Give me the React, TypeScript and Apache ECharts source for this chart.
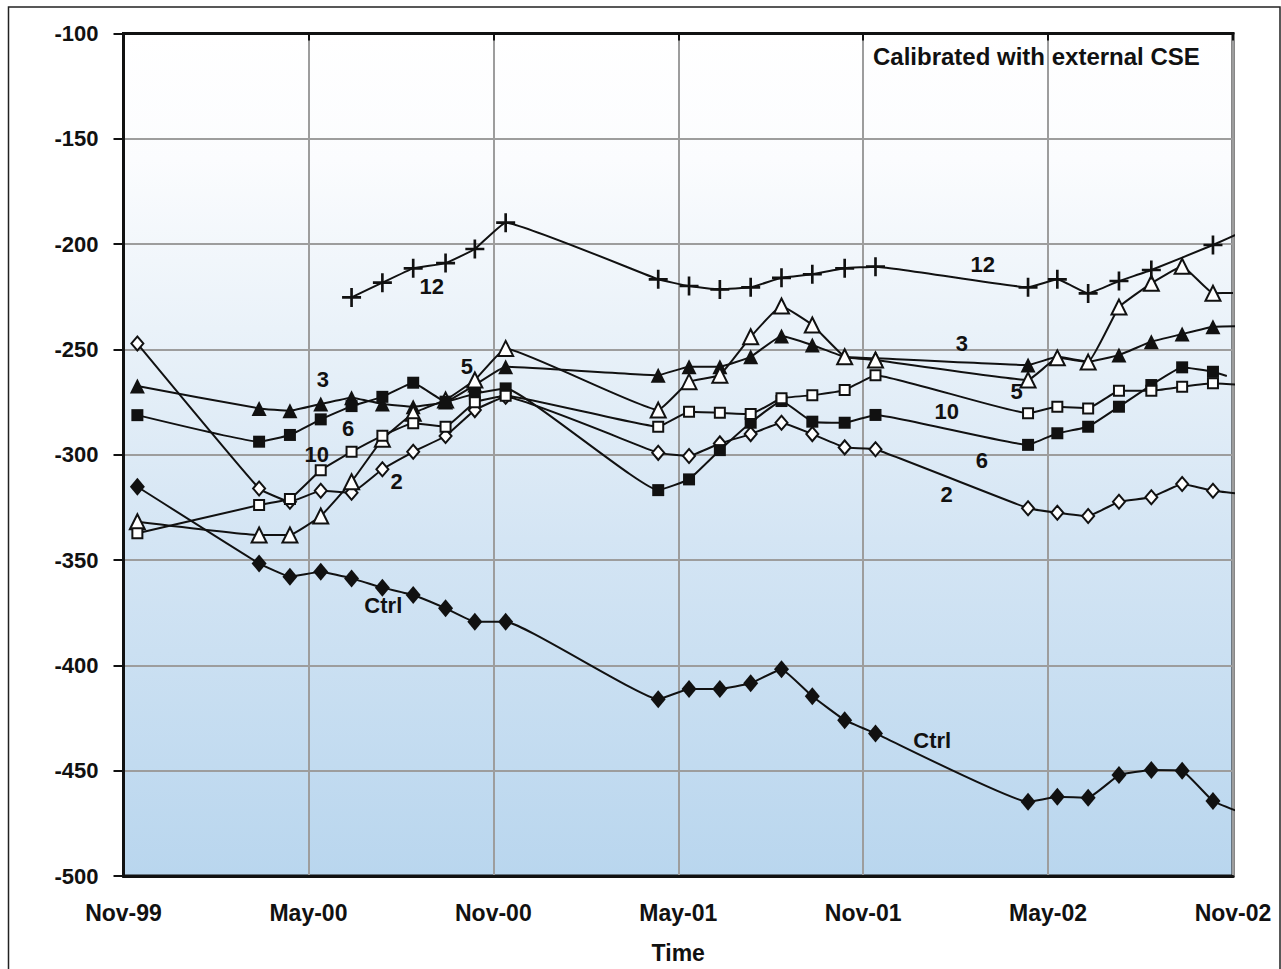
import React, { useEffect, useRef } from 'react';
import * as echarts from 'echarts';

// Months since Nov-99 for each sampling date
const months = [0.45, 4.4, 5.4, 6.4, 7.4, 8.4, 9.4, 10.45, 11.4, 12.4, 17.35, 18.35, 19.35, 20.35, 21.35, 22.35, 23.4, 24.4, 29.35, 30.3, 31.3, 32.3, 33.35, 34.35, 35.35];
const xTickLabels = ['Nov-99', 'May-00', 'Nov-00', 'May-01', 'Nov-01', 'May-02', 'Nov-02'];

const ctrl = [-315.2, -351.6, -357.9, -355.6, -358.7, -363.1, -366.6, -372.9, -379.3, -379.3, -416.1, -411.2, -411.2, -408.5, -401.8, -414.7, -426.0, -432.3, -464.8, -462.4, -462.9, -452.1, -449.7, -450.0, -464.4];
const s2 = [-247.2, -316.0, -322.3, -317.1, -318.0, -306.9, -298.6, -291.1, -278.8, -272.5, -299.1, -300.6, -294.6, -290.2, -284.8, -290.2, -296.5, -297.4, -325.4, -327.5, -329.1, -322.3, -320.2, -313.9, -317.1];
const s3 = [-267.4, -278.0, -279.1, -275.9, -272.9, -275.9, -277.2, -275.0, -266.9, -258.2, -262.2, -258.2, -258.2, -253.5, -243.6, -247.9, -253.5, -254.2, -257.4, -253.5, -255.8, -252.7, -246.3, -242.7, -239.2];
const s5 = [-331.8, -338.1, -338.1, -329.1, -312.8, -292.7, -280.3, -274.0, -264.5, -249.5, -278.8, -265.3, -262.2, -244.0, -229.4, -238.4, -253.5, -255.0, -264.5, -254.0, -256.0, -229.9, -218.6, -210.5, -223.3];
const s6 = [-281.2, -293.8, -290.6, -283.2, -276.9, -272.5, -265.8, -274.8, -271.0, -268.5, -316.8, -311.7, -297.8, -284.8, -274.5, -284.3, -284.8, -281.1, -295.3, -289.8, -286.7, -277.2, -266.9, -258.5, -260.6];
const s10 = [-337.3, -323.9, -321.0, -307.3, -298.6, -291.0, -285.1, -286.7, -275.1, -272.0, -286.7, -279.6, -280.1, -280.7, -273.2, -271.7, -269.3, -262.2, -280.3, -277.2, -278.0, -269.6, -269.6, -267.7, -266.1];
const s12 = [null, null, null, null, -225.3, -218.3, -211.5, -209.0, -202.3, -189.8, -216.7, -219.9, -221.5, -220.5, -216.0, -214.3, -211.5, -210.7, -220.5, -216.7, -223.4, -217.5, -212.3, null, -200.4];

// where each drawn line ends past its last marker [month, value]
const ctrlTail = [36.26, -469.9];
const s2Tail = [36.32, -318.6];
const s3Tail = [36.39, -238.9];
const s5Tail = [36.0, -223.2];
const s6Tail = [35.8, -262.6];
const s10Tail = [36.28, -266.9];
const s12Tail = [36.32, -194.1];

// in-plot line labels
const lineLabelText = ['12', '12', '3', '3', '6', '6', '10', '10', '2', '2', '5', '5', 'Ctrl', 'Ctrl'];
const lineLabelX = [10.0, 27.88, 6.47, 27.2, 7.29, 27.85, 6.27, 26.71, 8.86, 26.71, 11.14, 28.98, 8.43, 26.24];
const lineLabelY = [-220.2, -209.9, -264.5, -247.1, -287.5, -302.5, -300.1, -279.6, -312.8, -319.1, -258.2, -270.1, -371.4, -435.8];

const FONT = '"Liberation Sans", Arial, Helvetica, sans-serif';
const INK = '#111111';
const PLUS = 'path://M8.6,0 H11.4 V8.6 H20 V11.4 H11.4 V20 H8.6 V11.4 H0 V8.6 H8.6 Z';

function makeSeries(name: string, values: (number | null)[], tail: number[], symbol: string, size: any, filled: boolean) {
  const data: any[] = [];
  months.forEach((m, i) => {
    const v = values[i];
    if (v !== null && v !== undefined) data.push([m, v]);
  });
  data.push({ value: tail, symbol: 'none' });
  return {
    type: 'line',
    name,
    data,
    smooth: 0.1,
    clip: false,
    symbol,
    symbolSize: size,
    showAllSymbol: true,
    lineStyle: { color: INK, width: 2 },
    itemStyle: filled
      ? { color: INK, borderColor: INK, borderWidth: 0 }
      : { color: '#ffffff', borderColor: INK, borderWidth: 2 },
    emphasis: { disabled: true },
  };
}

export default function App() {
  const ref = useRef<HTMLDivElement>(null);
  useEffect(() => {
    if (!ref.current) return;
    const chart = echarts.init(ref.current, null, { renderer: 'svg' });
    const labelData = lineLabelText.map((t, i) => ({
      value: [lineLabelX[i], lineLabelY[i]],
      label: { formatter: t },
    }));
    chart.setOption({
      animation: false,
      backgroundColor: '#ffffff',
      textStyle: { fontFamily: FONT },
      grid: {
        left: 123.5,
        right: 48,
        top: 33.5,
        bottom: 93,
        show: true,
        borderColor: INK,
        borderWidth: 3,
        backgroundColor: new echarts.graphic.LinearGradient(0, 0, 0, 1, [
          { offset: 0, color: '#ffffff' },
          { offset: 0.15, color: '#fbfcfe' },
          { offset: 0.35, color: '#eaf2f9' },
          { offset: 0.6, color: '#d4e5f4' },
          { offset: 1, color: '#b9d6ee' },
        ]),
      },
      xAxis: [
        {
          type: 'value',
          min: 0,
          max: 36,
          interval: 6,
          axisLine: { show: true, lineStyle: { color: INK, width: 3 } },
          axisTick: { show: false },
          axisLabel: {
            formatter: (v: number) => xTickLabels[Math.round(v / 6)] || '',
            fontSize: 23,
            fontWeight: 'bold',
            color: INK,
            fontFamily: FONT,
            margin: 25,
          },
          splitLine: { show: true, lineStyle: { color: '#9d9d9d', width: 2 } },
          name: 'Time',
          nameLocation: 'middle',
          nameGap: 65,
          nameTextStyle: { fontSize: 23, fontWeight: 'bold', color: INK, fontFamily: FONT },
        },
        {
          type: 'value',
          position: 'top',
          min: 0,
          max: 36,
          interval: 6,
          axisLine: { show: true, lineStyle: { color: INK, width: 3 } },
          axisTick: { show: true, inside: true, length: 7, lineStyle: { color: INK, width: 2 } },
          axisLabel: { show: false },
          splitLine: { show: false },
        },
      ],
      yAxis: {
        type: 'value',
        min: -500,
        max: -100,
        interval: 50,
        axisLine: { show: true, lineStyle: { color: INK, width: 3 } },
        axisTick: { show: true, length: 10, lineStyle: { color: INK, width: 2 } },
        axisLabel: { fontSize: 22, fontWeight: 'bold', color: INK, fontFamily: FONT, margin: 25 },
        splitLine: { show: true, lineStyle: { color: '#9d9d9d', width: 2 } },
      },
      graphic: [
        {
          type: 'rect',
          shape: { x: 8.5, y: 7, width: 1271.5, height: 990 },
          style: { fill: 'none', stroke: '#222222', lineWidth: 1.5 },
          silent: true,
        },
        {
          type: 'text',
          x: 873,
          y: 44,
          style: {
            text: 'Calibrated with external CSE',
            font: 'bold 24px ' + FONT,
            fill: INK,
            textVerticalAlign: 'top',
          },
          silent: true,
        },
      ],
      series: [
        makeSeries('Ctrl', ctrl, ctrlTail, 'diamond', [15, 18], true),
        makeSeries('2', s2, s2Tail, 'diamond', [12, 14], false),
        makeSeries('3', s3, s3Tail, 'triangle', 15, true),
        makeSeries('5', s5, s5Tail, 'triangle', 15, false),
        makeSeries('6', s6, s6Tail, 'rect', 12, true),
        makeSeries('10', s10, s10Tail, 'rect', 10, false),
        makeSeries('12', s12, s12Tail, PLUS, 19, true),
        {
          type: 'scatter',
          name: 'labels',
          data: labelData,
          symbol: 'circle',
          symbolSize: 0,
          itemStyle: { color: INK, opacity: 1 },
          label: {
            show: true,
            position: 'inside',
            fontSize: 22,
            fontWeight: 'bold',
            color: INK,
            opacity: 1,
            fontFamily: FONT,
          },
          emphasis: { disabled: true },
          silent: true,
          z: 5,
        },
      ],
    });
    return () => chart.dispose();
  }, []);
  return (
    <div
      ref={ref}
      style={{ position: 'fixed', left: 0, top: 0, width: 1281, height: 969, background: '#fff' }}
    />
  );
}
